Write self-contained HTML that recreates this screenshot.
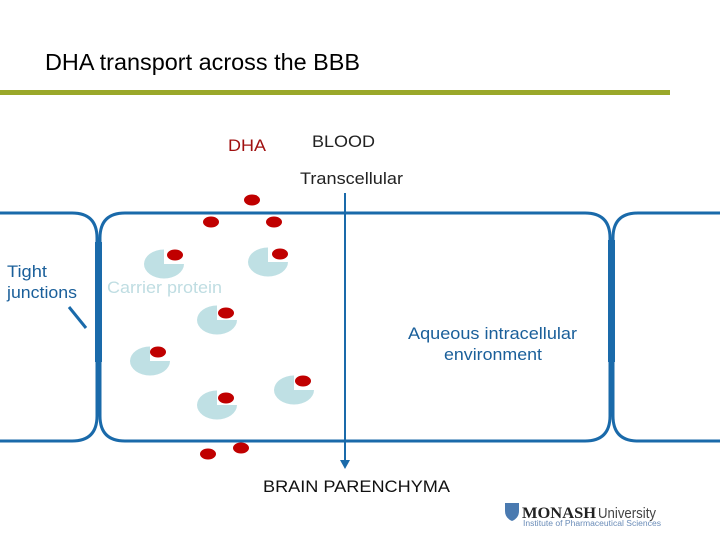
<!DOCTYPE html>
<html><head><style>body{margin:0;background:#fff}svg{display:block}</style></head><body>
<svg width="720" height="540" xmlns="http://www.w3.org/2000/svg" font-family="Liberation Sans, sans-serif">
<rect width="720" height="540" fill="#fff"/>
<text x="45" y="70" font-size="23" fill="#000" textLength="315" lengthAdjust="spacingAndGlyphs">DHA transport across the BBB</text>
<rect x="0" y="90" width="670" height="5" fill="#9aa82a"/>
<text x="228" y="151" font-size="17" fill="#a01010" textLength="38" lengthAdjust="spacingAndGlyphs">DHA</text>
<text x="312" y="147" font-size="17" fill="#222" textLength="63" lengthAdjust="spacingAndGlyphs">BLOOD</text>
<text x="300" y="184" font-size="17" fill="#222" textLength="103" lengthAdjust="spacingAndGlyphs">Transcellular</text>
<g fill="none" stroke="#1a6aaa" stroke-width="3">
<path d="M-5 213 H72 Q97 213 97 238 V416 Q97 441 72 441 H-5"/>
<path d="M610 238 Q610 213 585 213 H125 Q100 213 100 238 V416 Q100 441 125 441 H585 Q610 441 610 416 Z"/>
<path d="M725 213 H638 Q613 213 613 238 V416 Q613 441 638 441 H725"/>
<line x1="69" y1="307" x2="86" y2="328"/>
</g>
<rect x="95" y="242" width="7" height="120" fill="#1a6aaa"/>
<rect x="608" y="240" width="7" height="122" fill="#1a6aaa"/>
<text x="7" y="277" font-size="17" fill="#1a5f9a" textLength="40" lengthAdjust="spacingAndGlyphs">Tight</text>
<text x="7" y="298" font-size="17" fill="#1a5f9a" textLength="70" lengthAdjust="spacingAndGlyphs">junctions</text>
<text x="107" y="293" font-size="17" fill="#bfdde2" textLength="115" lengthAdjust="spacingAndGlyphs">Carrier protein</text>
<text x="408" y="339" font-size="17" fill="#1a5f9a" textLength="169" lengthAdjust="spacingAndGlyphs">Aqueous intracellular</text>
<text x="444" y="360" font-size="17" fill="#1a5f9a" textLength="98" lengthAdjust="spacingAndGlyphs">environment</text>
<line x1="345" y1="193" x2="345" y2="462" stroke="#1a6aaa" stroke-width="2"/>
<path d="M340 460 L345 469 L350 460 Z" fill="#1a6aaa"/>
<text x="263" y="492" font-size="17" fill="#111" textLength="187" lengthAdjust="spacingAndGlyphs">BRAIN PARENCHYMA</text>
<g fill="#bfe0e4">
<path d="M164 264 V249.5 A20 14.5 0 1 0 184 264 Z"/>
<path d="M268 262 V247.5 A20 14.5 0 1 0 288 262 Z"/>
<path d="M217 320 V305.5 A20 14.5 0 1 0 237 320 Z"/>
<path d="M150 361 V346.5 A20 14.5 0 1 0 170 361 Z"/>
<path d="M217 405 V390.5 A20 14.5 0 1 0 237 405 Z"/>
<path d="M294 390 V375.5 A20 14.5 0 1 0 314 390 Z"/>
</g>
<g fill="#c00000">
<ellipse cx="175" cy="255" rx="8" ry="5.5"/>
<ellipse cx="280" cy="254" rx="8" ry="5.5"/>
<ellipse cx="226" cy="313" rx="8" ry="5.5"/>
<ellipse cx="158" cy="352" rx="8" ry="5.5"/>
<ellipse cx="226" cy="398" rx="8" ry="5.5"/>
<ellipse cx="303" cy="381" rx="8" ry="5.5"/>
<ellipse cx="252" cy="200" rx="8" ry="5.5"/>
<ellipse cx="211" cy="222" rx="8" ry="5.5"/>
<ellipse cx="274" cy="222" rx="8" ry="5.5"/>
<ellipse cx="208" cy="454" rx="8" ry="5.5"/>
<ellipse cx="241" cy="448" rx="8" ry="5.5"/>
</g>
<path d="M505 503 h14 v8 q0 7 -7 10 q-7 -3 -7 -10 Z" fill="#4a7ab0"/>
<text x="522" y="518" font-size="16" font-family="Liberation Serif, serif" fill="#222" font-weight="bold" textLength="74" lengthAdjust="spacingAndGlyphs">MONASH</text>
<text x="598" y="518" font-size="15" fill="#444" textLength="58" lengthAdjust="spacingAndGlyphs">University</text>
<text x="523" y="526" font-size="8" fill="#6a8cb8" textLength="138" lengthAdjust="spacingAndGlyphs">Institute of Pharmaceutical Sciences</text>
</svg>
</body></html>
